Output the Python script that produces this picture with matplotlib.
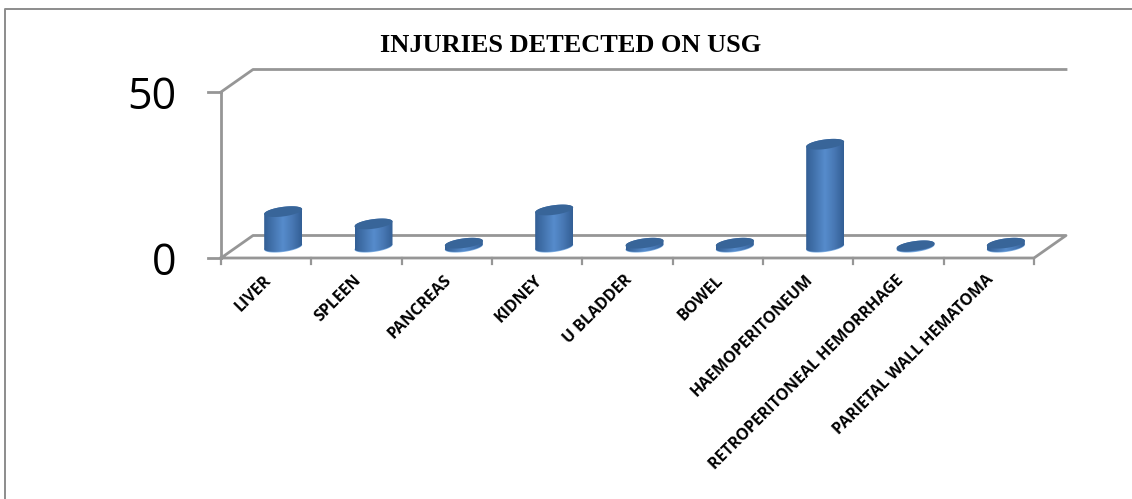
import matplotlib
matplotlib.use('Agg')
import matplotlib.pyplot as plt
import numpy as np
from matplotlib.patches import Polygon

categories = ['LIVER', 'SPLEEN', 'PANCREAS', 'KIDNEY', 'U BLADDER', 'BOWEL',
              'HAEMOPERITONEUM', 'RETROPERITONEAL HEMORRHAGE', 'PARIETAL WALL HEMATOMA']
values = [10.5, 6.8, 1, 11, 1, 1, 30.8, 0.2, 1]
y_ticks = [0, 50]

W, H = 1132, 499
x0, x1 = 221, 1034      # front edge of the floor, pixels
y0, y50 = 258, 92
grey = '#969696'

fig = plt.figure(figsize=(W / 100, H / 100), dpi=100)
ax = fig.add_axes([x0 / W, 1 - y0 / H, (x1 - x0) / W, (y0 - y50) / H])
ax.axis('off')

# pixel -> data sizes
n = len(categories)
px = n / (x1 - x0)
py = 50 / (y0 - y50)
dx, dy = 32 * px, 22.5 * py

# walls and floor
ax.plot([0, dx, n + dx], [50, 50 + dy, 50 + dy], color=grey, lw=2, clip_on=False)
ax.plot([0, 0], [0, 50], color=grey, lw=2, clip_on=False)
ax.plot([0, dx, n + dx, n, 0], [0, dy, dy, 0, 0], color=grey, lw=2, clip_on=False)
for tick in y_ticks:
    ax.plot([-13 * px, 0], [tick, tick], color=grey, lw=2, clip_on=False)
    ax.text(-45 * px, tick - 5.5 * py, str(tick), ha='right', va='center', fontsize=31,
            family='Open Sans', clip_on=False)
for i in range(n + 1):
    ax.plot([i, i], [0, -6 * py], color=grey, lw=1.6, clip_on=False)

# cylinders
rx, ry, tilt = 19 * px, 4.8 * py, 2.4 * py
t = np.linspace(0, 2 * np.pi, 80)
base = 11.5 * py
cmap = matplotlib.colors.LinearSegmentedColormap.from_list(
    'cyl', ['#335f95', '#4575b0', '#568ccc', '#4878b4', '#335f95'])
xs = np.linspace(0, 1, 100).reshape(1, -1)

for i, v in enumerate(values):
    cx = i + 0.5 + dx * 0.5 + 1 * px
    ex = rx * np.cos(t)
    ey = ry * np.sin(t) + tilt * np.cos(t)
    top = base + v
    # bright rim under the base
    ax.add_patch(Polygon(np.c_[cx + ex, base + ey - 0.7 * py], fc='#7fb0e4', ec='none', clip_on=False, zorder=3))
    # body = both ellipses joined up
    low = t[t > np.pi]
    high = t[t < np.pi]
    body = np.r_[np.c_[cx + rx * np.cos(low), base + ry * np.sin(low) + tilt * np.cos(low)],
                 np.c_[cx + rx * np.cos(high), top + ry * np.sin(high) + tilt * np.cos(high)]]
    poly = Polygon(body, fc='none', ec='none', clip_on=False, zorder=4)
    ax.add_patch(poly)
    im = ax.imshow(xs, cmap=cmap, extent=[cx - rx, cx + rx, base - 10 * py, top + 10 * py],
                   aspect='auto', zorder=4)
    im.set_clip_path(poly)
    ax.add_patch(Polygon(np.c_[cx + ex, top + ey], fc='#386599', ec='none', clip_on=False, zorder=5))

ax.set_xlim(0, n)
ax.set_ylim(0, 50)

# category labels, end of the text hangs from the tick
for i, c in enumerate(categories):
    ax.annotate(c, xy=(i + 0.5, 0), xytext=(-3, -14), textcoords='offset pixels',
                rotation=45, ha='right', va='top', rotation_mode='anchor',
                fontsize=11.5, fontweight='bold', family='Open Sans', annotation_clip=False)

fig.text(571 / W, 1 - 45 / H, 'INJURIES DETECTED ON USG', ha='center', va='center',
         fontsize=19, fontweight='bold', family='Liberation Serif')

# outer frame
fig.add_artist(plt.Line2D([5 / W, 5 / W, 1], [0, 1 - 8.5 / H, 1 - 8.5 / H], color='#8c8c8c', lw=1.4))

fig.savefig('out.png', dpi=100)
